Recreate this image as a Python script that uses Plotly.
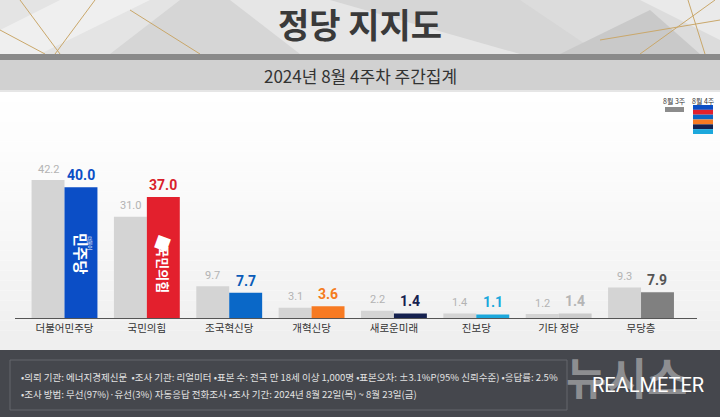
import plotly.graph_objects as go

# ---------------- data ----------------
categories = ["더불어민주당", "국민의힘", "조국혁신당", "개혁신당", "새로운미래", "진보당", "기타 정당", "무당층"]
prev_week = [42.2, 31.0, 9.7, 3.1, 2.2, 1.4, 1.2, 9.3]
curr_week = [40.0, 37.0, 7.7, 3.6, 1.4, 1.1, 1.4, 7.9]
prev_label = "8월 3주"
curr_label = "8월 4주"
title_text = "정당 지지도"
subtitle_text = "2024년 8월 4주차 주간집계"
footer_lines = [
    "•의뢰 기관: 에너지경제신문  •조사 기관: 리얼미터 •표본 수: 전국 만 18세 이상 1,000명 •표본오차: ±3.1%P(95% 신뢰수준) •응답률: 2.5%",
    "•조사 방법: 무선(97%)·유선(3%) 자동응답 전화조사 •조사 기간: 2024년 8월 22일(목) ~ 8월 23일(금)",
]

# ---------------- styles ----------------
W, H = 720, 417
KR = "Noto Sans CJK KR"
prev_color = "#d4d4d4"
curr_colors = ["#0b4ec6", "#e3202d", "#0a68c8", "#f77a22", "#15214f", "#1ca8dc", "#cbcbcb", "#808080"]
curr_text_colors = ["#0b4ec6", "#d91e2b", "#0a5cb8", "#f57b20", "#15214f", "#1aa8dc", "#b5b5b5", "#555555"]
stripe_colors = ["#0b4ec6", "#e3202d", "#0a68c8", "#f77a22", "#15214f", "#1ca8dc"]

base_px = 318          # baseline pixel
top_px = 130           # plot top pixel
px_per_unit = 3.27
x_left_px, x_right_px = 15, 697
first_center, spacing = 64.5, 82.36


def px(x):
    return x / W


def py(y):
    return (H - y) / H


fig = go.Figure()
fig.add_trace(go.Bar(x=categories, y=prev_week, name=prev_label,
                     marker=dict(color=prev_color, line=dict(width=0)), hoverinfo="x+y"))
fig.add_trace(go.Bar(x=categories, y=curr_week, name=curr_label,
                     marker=dict(color=curr_colors, line=dict(width=0)), hoverinfo="x+y"))

shapes = []
annotations = []

# title band (silver facets + gold lines)
shapes.append(dict(type="rect", xref="paper", yref="paper", x0=0, x1=1, y0=py(54), y1=py(0),
                   fillcolor="#d6d6d6", line=dict(width=0), layer="below"))
facets = [
    ("M 0 0 L 180 0 L 110 54 L 0 54 Z", "#e4e4e4"),
    ("M 60 0 L 150 0 L 40 54 L 0 54 L 0 30 Z", "#efefef"),
    ("M 230 0 L 330 0 L 520 54 L 300 54 Z", "#e6e6e6"),
    ("M 520 0 L 720 0 L 720 54 L 600 54 Z", "#dcdcdc"),
    ("M 640 0 L 720 0 L 720 40 Z", "#eaeaea"),
    ("M 560 54 L 650 10 L 700 54 Z", "#c9c9c9"),
]
for path, col in facets:
    toks = path.split()
    out = []
    i = 0
    while i < len(toks):
        t = toks[i]
        if t in ("M", "L"):
            xx = float(toks[i + 1]); yy = float(toks[i + 2])
            out.append(f"{t} {px(xx):.4f} {py(yy):.4f}")
            i += 3
        else:
            out.append(t)
            i += 1
    shapes.append(dict(type="path", xref="paper", yref="paper", path=" ".join(out),
                       fillcolor=col, line=dict(width=0), layer="below"))
gold_lines = [(20, 0, 60, 54), (95, 0, 55, 54), (0, 30, 45, 54), (130, 10, 200, 54),
              (640, 54, 715, 0), (688, 0, 705, 54), (600, 40, 720, 20)]
for x0, y0, x1, y1 in gold_lines:
    shapes.append(dict(type="line", xref="paper", yref="paper", x0=px(x0), y0=py(y0), x1=px(x1), y1=py(y1),
                       line=dict(color="#c9a76a", width=1), layer="below"))
# dark strip + subtitle band
shapes.append(dict(type="rect", xref="paper", yref="paper", x0=0, x1=1, y0=py(60), y1=py(54),
                   fillcolor="#8a8a8a", line=dict(width=0), layer="below"))
shapes.append(dict(type="rect", xref="paper", yref="paper", x0=0, x1=1, y0=py(90), y1=py(60),
                   fillcolor="#d1d1d1", line=dict(width=0), layer="below"))
shapes.append(dict(type="rect", xref="paper", yref="paper", x0=0, x1=1, y0=py(92), y1=py(90),
                   fillcolor="#e6e6e6", line=dict(width=0), layer="below"))
# chart background gradient
n_steps = 26
for k in range(n_steps):
    y0 = 92 + k * (350 - 92) / n_steps
    y1 = 92 + (k + 1) * (350 - 92) / n_steps
    g = int(255 - 16 * (k / (n_steps - 1)) ** 1.3)
    shapes.append(dict(type="rect", xref="paper", yref="paper", x0=0, x1=1, y0=py(y1), y1=py(y0),
                       fillcolor=f"rgb({g},{g},{g})", line=dict(width=0), layer="below"))
# footer
shapes.append(dict(type="rect", xref="paper", yref="paper", x0=0, x1=1, y0=0, y1=py(350),
                   fillcolor="#45474d", line=dict(width=0), layer="below"))
shapes.append(dict(type="rect", xref="paper", yref="paper", x0=px(10), x1=px(567), y0=py(410), y1=py(360),
                   fillcolor="rgba(0,0,0,0)", line=dict(color="#65676d", width=1), layer="below"))

# legend (top-right)
annotations.append(dict(xref="paper", yref="paper", x=px(674), y=py(101), text=prev_label, showarrow=False,
                        font=dict(family=KR, size=7, color="#333"), xanchor="center", yanchor="middle"))
annotations.append(dict(xref="paper", yref="paper", x=px(703), y=py(101), text=curr_label, showarrow=False,
                        font=dict(family=KR, size=7, color="#333"), xanchor="center", yanchor="middle"))
shapes.append(dict(type="rect", xref="paper", yref="paper", x0=px(665), x1=px(684), y0=py(112), y1=py(107),
                   fillcolor="#8c8c8c", line=dict(width=0)))
sh = (134 - 105) / len(stripe_colors)
for k, c in enumerate(stripe_colors):
    shapes.append(dict(type="rect", xref="paper", yref="paper", x0=px(693), x1=px(713),
                       y0=py(105 + (k + 1) * sh), y1=py(105 + k * sh), fillcolor=c, line=dict(width=0)))

# titles
annotations.append(dict(xref="paper", yref="paper", x=0.5, y=py(24), text="<b>" + title_text + "</b>", showarrow=False,
                        font=dict(family=KR, size=34, color="#3a3a3a"), xanchor="center", yanchor="middle"))
annotations.append(dict(xref="paper", yref="paper", x=0.5, y=py(76), text=subtitle_text, showarrow=False,
                        font=dict(family=KR, size=17, color="#333"), xanchor="center", yanchor="middle"))

# value labels
for i, (p, c) in enumerate(zip(prev_week, curr_week)):
    annotations.append(dict(xref="x", yref="y", x=i - 0.2, y=p, text=f"{p:.1f}", showarrow=False,
                            font=dict(family="Roboto", size=11, color="#b3b3b3"),
                            xanchor="center", yanchor="middle", yshift=11))
    annotations.append(dict(xref="x", yref="y", x=i + 0.2, y=c, text=f"<b>{c:.1f}</b>", showarrow=False,
                            font=dict(family="Roboto", size=14, color=curr_text_colors[i]),
                            xanchor="center", yanchor="middle", yshift=12))

# party logos inside the bars
annotations.append(dict(xref="x", yref="y", x=0 + 0.2, y=curr_week[0] * 0.49, text="<b>민주당</b>", showarrow=False,
                        textangle=90, font=dict(family=KR, size=15, color="white"),
                        xanchor="center", yanchor="middle"))
annotations.append(dict(xref="x", yref="y", x=0 + 0.3, y=curr_week[0] * 0.57, text="더불어", showarrow=False,
                        textangle=90, font=dict(family=KR, size=5, color="white"),
                        xanchor="center", yanchor="middle"))
annotations.append(dict(xref="x", yref="y", x=1 + 0.2, y=curr_week[1] * 0.40, text="<b>국민의힘</b>", showarrow=False,
                        textangle=90, font=dict(family=KR, size=13, color="white"),
                        xanchor="center", yanchor="middle"))
annotations.append(dict(xref="x", yref="y", x=1 + 0.2, y=curr_week[1] * 0.63, text="■", showarrow=False,
                        textangle=20, font=dict(family="DejaVu Sans", size=17, color="white"),
                        xanchor="center", yanchor="middle"))

# footer text
for k, line in enumerate(footer_lines):
    annotations.append(dict(xref="paper", yref="paper", x=px(19), y=py(377 + 17 * k), text=line, showarrow=False,
                            font=dict(family=KR, size=9.5, color="#e2e2e2"), xanchor="left", yanchor="middle"))
# watermark / logo
annotations.append(dict(xref="paper", yref="paper", x=px(626), y=py(376), text="<b>뉴시스</b>", showarrow=False,
                        font=dict(family=KR, size=44, color="rgba(205,205,205,0.55)"),
                        xanchor="center", yanchor="middle"))
annotations.append(dict(xref="paper", yref="paper", x=px(648), y=py(385), text="REALMETER", showarrow=False,
                        font=dict(family="Roboto", size=20, color="white"),
                        xanchor="center", yanchor="middle"))

x_lo = (x_left_px - first_center) / spacing
x_hi = (x_right_px - first_center) / spacing

fig.update_layout(
    width=W, height=H,
    margin=dict(l=0, r=0, t=0, b=0),
    paper_bgcolor="white", plot_bgcolor="rgba(0,0,0,0)",
    barmode="group", bargap=0.2, bargroupgap=0,
    showlegend=False,
    shapes=shapes, annotations=annotations,
    xaxis=dict(type="category", range=[x_lo, x_hi], domain=[px(x_left_px), px(x_right_px)],
               showline=True, linecolor="#555", linewidth=1, showgrid=False, zeroline=False,
               ticks="", tickfont=dict(family=KR, size=10.5, color="#333"), fixedrange=True),
    yaxis=dict(range=[0, (base_px - top_px) / px_per_unit], domain=[py(base_px), py(top_px)],
               visible=False, fixedrange=True),
)

fig.write_html("out.html", config={"displayModeBar": False},
               post_script="document.body.style.margin='0';document.body.style.overflow='hidden';")
